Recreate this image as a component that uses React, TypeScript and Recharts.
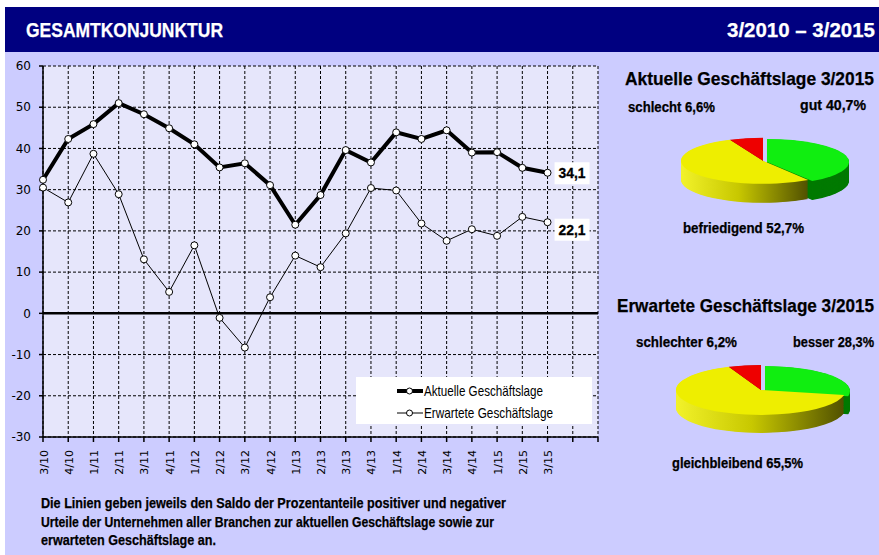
import React from 'react';
import { LineChart, Line, XAxis, YAxis, CartesianGrid, ReferenceLine, LabelList, PieChart, Pie, Cell } from 'recharts';

// Quartale 3/2010 bis 3/2015
const categories = [
  '3/10', '4/10', '1/11', '2/11', '3/11', '4/11', '1/12', '2/12', '3/12', '4/12', '1/13',
  '2/13', '3/13', '4/13', '1/14', '2/14', '3/14', '4/14', '1/15', '2/15', '3/15',
];
const aktuelle = [32.4, 42.3, 45.9, 51.0, 48.3, 44.9, 41.0, 35.4, 36.4, 31.1, 21.5, 28.7, 39.6, 36.6, 43.9, 42.3, 44.4, 39.0, 39.1, 35.3, 34.1];
const erwartete = [30.5, 26.9, 38.7, 28.9, 13.1, 5.2, 16.5, -1.1, -8.3, 3.9, 14.0, 11.2, 19.4, 30.4, 29.8, 21.8, 17.6, 20.4, 18.8, 23.4, 22.1];
const yTicks = [-30, -20, -10, 0, 10, 20, 30, 40, 50, 60];

const aktuelleNames = ['gut', 'befriedigend', 'schlecht'];
const aktuelleShares = [40.7, 52.7, 6.6];
const erwarteteNames = ['besser', 'gleichbleibend', 'schlechter'];
const erwarteteShares = [28.3, 65.5, 6.2];

const lineData = categories.map((c, i) => ({ i, akt: aktuelle[i], erw: erwartete[i] }));
const xTicks = Array.from({ length: categories.length + 2 }, (_, i) => i);

const ARIAL = '"Liberation Sans", Arial, sans-serif';
const SANS = '"DejaVu Sans", Verdana, sans-serif';

const fmt = (v: number) => v.toFixed(1).replace('.', ',');

const topColors = ['#10ee10', '#eeee00', '#ee0000'];
const sideColors = ['#007a00', 'url(#yellowSide)', '#8a0000'];

// Text squeezed to a fixed width (the original uses a narrow font)
interface TProps { x1: number; x2: number; cy: number; size: number; bold?: boolean; color?: string; children: React.ReactNode }
const T: React.FC<TProps> = ({ x1, x2, cy, size, bold = true, color = '#000', children }) => (
  <svg style={{ position: 'absolute', left: x1 - 2, top: cy - size, overflow: 'visible' }} width={x2 - x1 + 4} height={size * 2}>
    <text x={2} y={size + size * 0.36} textLength={x2 - x1} lengthAdjust="spacingAndGlyphs" fontFamily={ARIAL}
      fontSize={size} fontWeight={bold ? 'bold' : 'normal'} fill={color} stroke={bold ? color : 'none'}
      strokeWidth={bold ? 0.25 : 0}>{children}</text>
  </svg>
);

const XTick = (props: any) => {
  const { x, y, payload } = props;
  const label = categories[payload.value] ?? '';
  return (
    <text transform={`translate(${x + 1},${y + 6}) rotate(-90)`} textAnchor="end" dominantBaseline="central"
      fontFamily={SANS} fontSize={11} fill="#000">{label}</text>
  );
};

const endLabel = (last: number, dy: number) => (props: any) => {
  const { x, y, index, value } = props;
  if (index !== last) return null;
  return (
    <g>
      <rect x={x + 7} y={y + dy - 11} width={35} height={22} fill="#fff" />
      <text x={x + 11} y={y + dy + 5} textLength={27} lengthAdjust="spacingAndGlyphs" fontFamily={ARIAL}
        fontWeight="bold" fontSize={14} fill="#000" stroke="#000" strokeWidth={0.3}>{fmt(value)}</text>
    </g>
  );
};

interface Pie3DProps { shares: number[]; cx: number; cy: number; rx: number; ry: number; depth: number; id: string }

const Pie3D: React.FC<Pie3DProps> = ({ shares, cx, cy, rx, ry, depth, id }) => {
  const s = ry / rx;
  const d = depth / s;
  const W = rx * 2 + 20;
  const H = rx * 2 + d + 20;
  const pcx = W / 2;
  const pcy = rx + 10;
  const total = shares.reduce((a, b) => a + b, 0);
  let acc = 0;
  const slices = shares.map((v, k) => {
    const start = 90 - (acc / total) * 360;
    acc += v;
    const end = 90 - (acc / total) * 360;
    return { v, k, start, end, dx: k === 0 ? 4 : 0, dy: k === 0 ? 4 : 0 };
  });
  const layers: number[] = [];
  for (let o = d; o > 0; o -= 2) layers.push(o);
  return (
    <div style={{ position: 'absolute', left: cx - pcx, top: cy - pcy * s, width: W, height: H, transform: `scaleY(${s})`, transformOrigin: 'top left' }}>
      <PieChart width={W} height={H} margin={{ top: 0, right: 0, bottom: 0, left: 0 }}>
        <defs>
          <linearGradient id="yellowSide" x1="0" y1="0" x2="1" y2="0">
            <stop offset="0%" stopColor="#f2f22a" />
            <stop offset="45%" stopColor="#c8c800" />
            <stop offset="100%" stopColor="#505000" />
          </linearGradient>
        </defs>
        {layers.map((o) => slices.map((sl) => (
          <Pie key={`${id}-${o}-${sl.k}`} data={[{ value: sl.v }]} dataKey="value" cx={pcx + sl.dx} cy={pcy + o + sl.dy}
            outerRadius={rx} startAngle={sl.start} endAngle={sl.end} stroke="none" isAnimationActive={false}>
            <Cell fill={sideColors[sl.k]} />
          </Pie>
        )))}
        {slices.map((sl) => (
          <Pie key={`${id}-top-${sl.k}`} data={[{ value: sl.v }]} dataKey="value" cx={pcx + sl.dx} cy={pcy + sl.dy}
            outerRadius={rx} startAngle={sl.start} endAngle={sl.end} stroke="none" isAnimationActive={false}>
            <Cell fill={topColors[sl.k]} />
          </Pie>
        ))}
      </PieChart>
    </div>
  );
};

const App: React.FC = () => {
  return (
    <div style={{ position: 'relative', width: 879, height: 555, background: '#fff', overflow: 'hidden' }}>
      <style>{'body{margin:0}'}</style>
      <div style={{ position: 'absolute', left: 5, top: 7, right: 0, bottom: 0, background: '#ccccff' }} />
      <div style={{ position: 'absolute', left: 5, top: 7, right: 0, height: 45, background: '#000080' }} />
      <T x1={26} x2={223} cy={30} size={20} color="#fff">GESAMTKONJUNKTUR</T>
      <T x1={727} x2={875} cy={30} size={20} color="#fff">3/2010 – 3/2015</T>

      <div style={{ position: 'absolute', left: 0, top: 0 }}>
        <LineChart width={610} height={490} data={lineData} margin={{ top: 66, right: 12, left: 3, bottom: 0 }}>
          <CartesianGrid stroke="#000" strokeDasharray="3 2" fill="#e6e6fb" fillOpacity={1} />
          <XAxis dataKey="i" type="number" domain={[0, 22]} ticks={xTicks} interval={0} height={53}
            tick={<XTick />} tickSize={5} stroke="#000" strokeWidth={1.5} />
          <YAxis type="number" domain={[-30, 60]} ticks={yTicks} width={40} tickSize={4} tickMargin={8}
            stroke="#000" strokeWidth={1.5} tick={{ fontFamily: SANS, fontSize: 12, fill: '#000' }} />
          <ReferenceLine y={0} stroke="#000" strokeWidth={2.5} />
          <Line dataKey="erw" stroke="#000" strokeWidth={1} isAnimationActive={false}
            dot={{ r: 3.5, fill: '#fff', stroke: '#000', strokeWidth: 1 }}>
            <LabelList dataKey="erw" content={endLabel(categories.length - 1, 7.5)} />
          </Line>
          <Line dataKey="akt" stroke="#000" strokeWidth={4} isAnimationActive={false}
            dot={{ r: 3.5, fill: '#fff', stroke: '#000', strokeWidth: 1 }}>
            <LabelList dataKey="akt" content={endLabel(categories.length - 1, 0.5)} />
          </Line>
        </LineChart>
      </div>

      <div style={{ position: 'absolute', left: 356, top: 377, width: 236, height: 47, background: '#fff' }}>
        <svg width={30} height={47} style={{ position: 'absolute', left: 40, top: 0 }}>
          <line x1={1} y1={14} x2={27} y2={14} stroke="#000" strokeWidth={4} />
          <circle cx={13.5} cy={14} r={3} fill="#fff" stroke="#000" />
          <line x1={1} y1={36} x2={27} y2={36} stroke="#000" strokeWidth={1} />
          <circle cx={13.5} cy={36} r={3} fill="#fff" stroke="#000" />
        </svg>
      </div>
      <T x1={424} x2={543} cy={391} size={15} bold={false}>Aktuelle Geschäftslage</T>
      <T x1={424} x2={553} cy={413} size={15} bold={false}>Erwartete Geschäftslage</T>

      <Pie3D shares={aktuelleShares} cx={763} cy={161} rx={82} ry={23} depth={19} id="akt" />
      <Pie3D shares={erwarteteShares} cx={761} cy={390} rx={85} ry={25} depth={18} id="erw" />

      <T x1={625} x2={874} cy={78} size={19}>Aktuelle Geschäftslage 3/2015</T>
      <T x1={628} x2={715} cy={107} size={14}>{`${aktuelleNames[2]} ${fmt(aktuelleShares[2])}%`}</T>
      <T x1={800} x2={866} cy={105} size={14}>{`${aktuelleNames[0]} ${fmt(aktuelleShares[0])}%`}</T>
      <T x1={683} x2={804} cy={228} size={14}>{`${aktuelleNames[1]} ${fmt(aktuelleShares[1])}%`}</T>

      <T x1={617} x2={874} cy={305} size={19}>Erwartete Geschäftslage 3/2015</T>
      <T x1={636} x2={737} cy={342} size={14}>{`${erwarteteNames[2]} ${fmt(erwarteteShares[2])}%`}</T>
      <T x1={793} x2={874} cy={342} size={14}>{`${erwarteteNames[0]} ${fmt(erwarteteShares[0])}%`}</T>
      <T x1={672} x2={803} cy={463} size={14}>{`${erwarteteNames[1]} ${fmt(erwarteteShares[1])}%`}</T>

      <T x1={41} x2={506} cy={503} size={15}>Die Linien geben jeweils den Saldo der Prozentanteile positiver und negativer</T>
      <T x1={41} x2={494} cy={522} size={15}>Urteile der Unternehmen aller Branchen zur aktuellen Geschäftslage sowie zur</T>
      <T x1={41} x2={216} cy={540} size={15}>erwarteten Geschäftslage an.</T>
    </div>
  );
};

export default App;
